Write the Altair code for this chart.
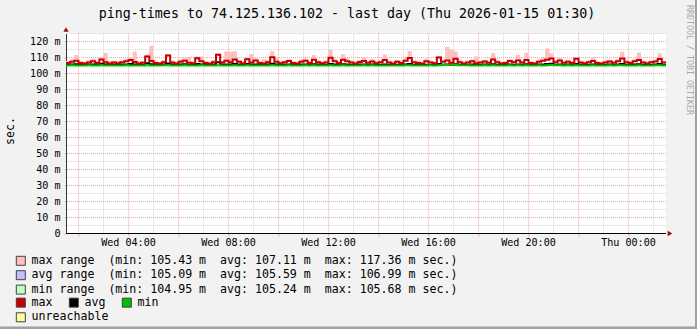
import altair as alt
import pandas as pd

MONO = "DejaVu Sans Mono"
TITLE = "ping-times to 74.125.136.102 - last day (Thu 2026-01-15 01:30)"
WATERMARK = "RRDTOOL / TOBI OETIKER"
UNIT = "sec."
START = "2026-01-14T01:30:00"
END = "2026-01-15T01:30:00"
Y_MAX = 125

# 10-minute bins, 01:30 Wed -> 01:30 Thu (values in ms)
max_line = [
    106.6, 107.3, 107.9, 106.5, 106.2, 106.9, 107.6, 106.6, 108.8, 107.1, 106.3, 106.8,
    106.4, 107.0, 107.6, 108.5, 107.2, 106.3, 106.7, 110.6, 107.8, 106.5, 106.2, 107.1,
    111.2, 106.9, 106.3, 107.4, 108.0, 106.7, 106.4, 109.6, 107.7, 106.6, 106.1, 107.0,
    111.7, 106.8, 107.9, 107.1, 108.7, 107.3, 106.4, 108.9, 106.9, 108.2, 106.5, 106.3,
    107.0, 110.2, 107.4, 106.4, 107.1, 107.8, 106.6, 106.2, 107.4, 108.0, 106.5, 108.6,
    107.1, 106.4, 106.8, 109.8, 107.6, 106.5, 108.6, 107.7, 106.9, 106.3, 107.2, 107.8,
    106.7, 107.5, 106.4, 107.1, 108.4, 106.8, 106.3, 107.4, 106.6, 107.9, 109.7, 107.0,
    106.5, 106.2, 107.7, 106.9, 106.4, 110.0, 107.3, 108.1, 106.7, 109.2, 107.0, 106.3,
    106.9, 107.6, 106.4, 106.8, 107.5, 106.7, 108.7, 107.1, 106.3, 106.5, 107.8, 107.0,
    108.1, 106.8, 108.5, 106.6, 106.3, 107.4, 107.9, 108.6, 109.4, 107.1, 108.2, 106.7,
    107.3, 106.5, 109.2, 106.8, 106.4, 107.0, 107.8, 106.6, 106.2, 106.9, 107.5, 106.7,
    107.6, 109.3, 107.1, 106.5, 107.7, 108.5, 106.8, 106.3, 107.0, 107.5, 109.1, 106.9,
]
max_peak = [
    107.8, 109.0, 111.6, 108.1, 107.4, 108.3, 109.1, 107.8, 110.0, 112.8, 107.6, 108.1,
    107.7, 108.3, 109.0, 109.8, 113.7, 107.5, 108.0, 111.9, 117.36, 107.8, 107.2, 108.4,
    112.4, 108.1, 107.4, 108.7, 109.8, 110.2, 107.6, 110.8, 110.6, 107.8, 107.3, 108.5,
    112.6, 108.0, 113.8, 113.6, 113.9, 108.6, 107.7, 110.1, 112.2, 109.5, 107.8, 108.9,
    108.5, 113.9, 109.8, 107.5, 108.2, 109.1, 107.8, 107.4, 108.9, 109.6, 107.7, 111.6,
    108.6, 107.5, 108.4, 114.9, 109.0, 107.7, 112.0, 109.6, 108.1, 107.4, 108.5, 110.1,
    108.0, 109.1, 107.6, 108.4, 111.8, 108.1, 107.5, 108.7, 107.9, 109.5, 114.0, 108.8,
    107.8, 107.4, 109.3, 108.1, 107.6, 111.1, 108.5, 116.6, 114.8, 113.7, 108.7, 107.5,
    108.2, 108.9, 110.6, 107.9, 108.8, 108.0, 112.8, 108.4, 107.4, 107.6, 109.1, 108.3,
    111.7, 108.1, 113.0, 107.8, 107.4, 108.7, 110.0, 115.8, 112.6, 108.5, 109.8, 108.0,
    108.7, 107.8, 110.0, 108.1, 107.5, 108.4, 110.2, 107.9, 107.4, 108.2, 108.8, 108.0,
    109.0, 113.6, 108.7, 107.8, 109.2, 113.2, 108.1, 107.5, 108.3, 108.9, 112.7, 108.2,
]
avg_line = [
    105.6, 105.7, 105.8, 105.5, 105.5, 105.6, 105.7, 105.5, 106.1, 105.7, 105.5, 105.6,
    105.5, 105.6, 105.7, 105.9, 105.6, 105.5, 105.5, 106.4, 105.8, 105.5, 105.4, 105.6,
    106.2, 105.6, 105.5, 105.6, 105.8, 105.5, 105.5, 106.0, 105.7, 105.5, 105.4, 105.6,
    106.99, 105.6, 105.7, 105.6, 105.9, 105.6, 105.5, 105.9, 105.6, 105.7, 105.5, 105.4,
    105.6, 106.1, 105.6, 105.5, 105.6, 105.7, 105.5, 105.4, 105.6, 105.7, 105.5, 105.8,
    105.6, 105.5, 105.5, 106.0, 105.6, 105.5, 105.8, 105.6, 105.5, 105.4, 105.6, 105.7,
    105.5, 105.6, 105.4, 105.5, 105.7, 105.5, 105.3, 105.5, 105.4, 105.6, 106.0, 105.5,
    105.4, 105.3, 105.5, 105.4, 105.3, 105.9, 105.5, 105.6, 105.4, 105.8, 105.4, 105.3,
    105.5, 105.6, 105.4, 105.5, 105.6, 105.5, 105.8, 105.5, 105.4, 105.4, 105.6, 105.5,
    105.7, 105.5, 105.8, 105.5, 105.4, 105.6, 105.6, 105.9, 106.1, 105.5, 105.7, 105.4,
    105.6, 105.5, 105.9, 105.5, 105.4, 105.5, 105.6, 105.5, 105.4, 105.5, 105.6, 105.5,
    105.6, 106.0, 105.5, 105.4, 105.6, 105.8, 105.5, 105.4, 105.5, 105.6, 105.9, 105.5,
]
min_line = [
    105.0, 105.1, 105.0, 104.95, 105.0, 105.1, 105.0, 104.95, 105.1, 105.0, 104.95, 105.0,
    105.0, 104.95, 105.1, 105.0, 105.0, 104.95, 104.95, 105.1, 105.0, 104.95, 105.0, 105.1,
    105.1, 105.0, 104.95, 105.0, 105.1, 105.0, 104.95, 105.0, 105.2, 105.0, 104.95, 105.0,
    105.1, 105.0, 104.95, 105.0, 105.1, 105.0, 104.95, 105.1, 105.0, 105.0, 104.95, 104.95,
    105.0, 105.2, 105.0, 104.95, 105.0, 105.1, 105.0, 104.95, 105.0, 105.1, 105.0, 105.1,
    105.0, 104.95, 105.0, 105.1, 105.0, 104.95, 105.1, 105.0, 105.0, 104.95, 105.0, 105.1,
    105.0, 105.1, 104.95, 104.95, 105.0, 104.95, 104.95, 104.95, 105.0, 105.1, 105.2, 105.0,
    104.95, 104.95, 105.0, 105.1, 104.95, 105.2, 105.3, 105.4, 105.68, 105.3, 105.2, 105.1,
    105.1, 105.0, 104.95, 105.0, 105.1, 105.0, 105.1, 105.0, 104.95, 105.0, 105.1, 105.0,
    105.1, 105.0, 105.2, 105.0, 104.95, 105.1, 105.0, 105.2, 105.3, 105.1, 105.2, 105.0,
    105.1, 105.0, 105.1, 105.0, 104.95, 105.0, 105.1, 105.0, 104.95, 105.0, 105.1, 105.0,
    105.1, 105.2, 105.0, 104.95, 105.0, 105.1, 105.0, 104.95, 105.0, 105.1, 105.2, 105.0,
]
unreachable_loss = [0, 0]

# legend statistics
range_names = ["max range", "avg range", "min range"]
range_min = [105.43, 105.09, 104.95]
range_avg = [107.11, 105.59, 105.24]
range_max = [117.36, 106.99, 105.68]
range_colors = ["#FFBFBF", "#BFBFFF", "#BFFFBF"]
line_names = ["max", "avg", "min"]
line_colors = ["#C80000", "#000000", "#00C000"]
unreach_names = ["unreachable"]
unreach_colors = ["#FFFFA0"]

GRID_MINOR = "#D4D4D4"
GRID_MAJOR = "#E8A8A8"
ARROW = "#9A1010"
BORDER_DARK = "#A0A0A0"

NB = "\u00a0"
range_labels = [
    f"{n}  (min: {a:.2f} m  avg: {b:.2f} m  max: {c:.2f} m sec.)".replace(" ", NB)
    for n, a, b, c in zip(range_names, range_min, range_avg, range_max)
]

times = pd.date_range(START, periods=len(max_line) + 1, freq="10min")
tstr = times.strftime("%Y-%m-%dT%H:%M:%S").tolist()


def ext(a):
    return a + [a[-1]]


df = pd.DataFrame({
    "t": tstr,
    "rmax": ext(max_line),
    "pmax": ext(max_peak),
    "avg": ext(avg_line),
    "min": ext(min_line),
})
df["range"] = range_labels[0]

hours = pd.date_range("2026-01-14T02:00:00", "2026-01-15T01:00:00", freq="1h")
minor_hours = [h.strftime("%Y-%m-%dT%H:%M:%S") for h in hours if h.hour % 2 == 1]
major_hours = [h for h in hours if h.hour % 2 == 0]
major_hours_s = [h.strftime("%Y-%m-%dT%H:%M:%S") for h in major_hours]
y_minor = list(range(5, Y_MAX + 1, 10))
y_major = list(range(10, Y_MAX, 10))


def dt(ts):
    return alt.DateTime(year=ts.year, month=ts.month, date=ts.day, hours=ts.hour, minutes=ts.minute)


x_dom = [dt(pd.Timestamp(START)), dt(pd.Timestamp(END))]
x_axis = alt.Axis(
    values=[dt(h) for h in major_hours],
    labelExpr="hours(datum.value) % 4 == 0 ? timeFormat(datum.value, '%a %H:%M') : ''",
    grid=False, domainColor="#000000", tickColor=GRID_MAJOR, tickSize=3,
    labelFont=MONO, labelFontSize=10.1, labelColor="#000000", labelPadding=1,
    labelOverlap=False, labelFlush=False, translate=0, title=None,
)
y_axis = alt.Axis(
    values=list(range(0, 121, 10)),
    labelExpr=f"datum.value == 0 ? '0{NB}{NB}' : datum.value + '{NB}m'",
    grid=False, domainColor="#333333", tickColor=GRID_MAJOR, tickSize=2,
    labelFont=MONO, labelFontSize=10.1, labelColor="#000000", labelPadding=4,
    title=UNIT, titleFont=MONO, titleFontSize=11.6, titleFontWeight="normal",
    titleColor="#000000", titleAngle=270, titleX=-56, titleY=97, titleBaseline="middle",
)


def X(field):
    return alt.X(field, type="temporal", scale=alt.Scale(domain=x_dom), axis=x_axis)


def Y(field):
    return alt.Y(field, type="quantitative", scale=alt.Scale(domain=[0, Y_MAX], nice=False), axis=y_axis)


base = alt.Chart(df)

g_minor_x = alt.Chart(pd.DataFrame({"t": minor_hours})).mark_rule(
    color=GRID_MINOR, strokeDash=[1, 1], strokeWidth=1).encode(x=X("t"))
g_major_x = alt.Chart(pd.DataFrame({"t": major_hours_s})).mark_rule(
    color=GRID_MAJOR, strokeDash=[1, 1], strokeWidth=1).encode(x=X("t"))
g_minor_y = alt.Chart(pd.DataFrame({"v": y_minor})).mark_rule(
    color=GRID_MINOR, strokeDash=[1, 1], strokeWidth=1).encode(y=Y("v"))
g_major_y = alt.Chart(pd.DataFrame({"v": y_major})).mark_rule(
    color=GRID_MAJOR, strokeDash=[1, 1], strokeWidth=1).encode(y=Y("v"))

leg_common = dict(
    orient="none", title=None, labelFont=MONO, labelFontSize=11.6, labelColor="#000000",
    labelLimit=1000, symbolType="square", symbolSize=81, symbolStrokeColor="#404040",
    symbolStrokeWidth=1, labelOffset=5, padding=0, rowPadding=0.4,
)

pink = base.mark_area(interpolate="step-after").encode(
    x=X("t"), y=Y("rmax"), y2="pmax",
    fill=alt.Fill("range:N", scale=alt.Scale(domain=range_labels, range=range_colors),
                  legend=alt.Legend(legendX=-51, legendY=221.5, direction="vertical", **leg_common)),
)

line_leg = alt.Chart(pd.DataFrame({"t": [START] * 3, "v": [0] * 3, "s": line_names})).mark_area().encode(
    x=X("t"), y=Y("v"),
    fill=alt.Fill("s:N", scale=alt.Scale(domain=line_names, range=line_colors),
                  legend=alt.Legend(legendX=-51, legendY=263, direction="horizontal",
                                    columnPadding=14, **leg_common)),
)

unreach = alt.Chart(pd.DataFrame({"t": [START, END], "v": unreachable_loss,
                                  "s": unreach_names * 2})).mark_area().encode(
    x=X("t"), y=Y("v"),
    fill=alt.Fill("s:N", scale=alt.Scale(domain=unreach_names, range=unreach_colors),
                  legend=alt.Legend(legendX=-51, legendY=278, direction="vertical", **leg_common)),
)

l_min = base.mark_line(interpolate="step-after", strokeWidth=2, color=line_colors[2]).encode(x=X("t"), y=Y("min"))
l_avg = base.mark_line(interpolate="step-after", strokeWidth=2, color=line_colors[1]).encode(x=X("t"), y=Y("avg"))
l_max = base.mark_line(interpolate="step-after", strokeWidth=2, color=line_colors[0]).encode(x=X("t"), y=Y("rmax"))

arrow_x = alt.Chart(pd.DataFrame({"t": [END], "v": [0]})).mark_point(
    shape="triangle-right", filled=True, size=28, color=ARROW, opacity=1, xOffset=4).encode(x=X("t"), y=Y("v"))
arrow_y = alt.Chart(pd.DataFrame({"t": [START], "v": [Y_MAX]})).mark_point(
    shape="triangle-up", filled=True, size=28, color=ARROW, opacity=1, yOffset=-4).encode(x=X("t"), y=Y("v"))

one = pd.DataFrame({"w": [WATERMARK], "title": [TITLE]})
wm = alt.Chart(one).mark_text(
    angle=90, font=MONO, fontSize=8.3, color="#A8A8A8", align="center", baseline="middle").encode(
    x=alt.value(622.5), y=alt.value(26.5), text="w:N")
title_txt = alt.Chart(one).mark_text(
    font=MONO, fontSize=13.3, color="#000000", align="center", baseline="alphabetic").encode(
    x=alt.value(281), y=alt.value(-15.2), text="title:N")

border_r = alt.Chart(one).mark_rect(color=BORDER_DARK).encode(
    x=alt.value(629), x2=alt.value(631), y=alt.value(-33.5), y2=alt.value(295.5))
border_b = alt.Chart(one).mark_rect(color=BORDER_DARK).encode(
    x=alt.value(-66), x2=alt.value(631), y=alt.value(293), y2=alt.value(295.5))

chart = alt.layer(
    g_minor_x, g_major_x, g_minor_y, g_major_y, pink, unreach, line_leg,
    l_avg, l_min, l_max, arrow_x, arrow_y, wm, title_txt, border_r, border_b,
).resolve_scale(fill="independent").properties(
    width=600, height=200,
    autosize=alt.AutoSizeParams(type="none"),
    padding={"left": 66, "top": 33.5, "right": 31, "bottom": 95.5},
    background="#F2F2F2",
).configure_view(stroke=None, fill="#FFFFFF")

chart.save("out.html", embed_options={"renderer": "svg", "actions": False})
